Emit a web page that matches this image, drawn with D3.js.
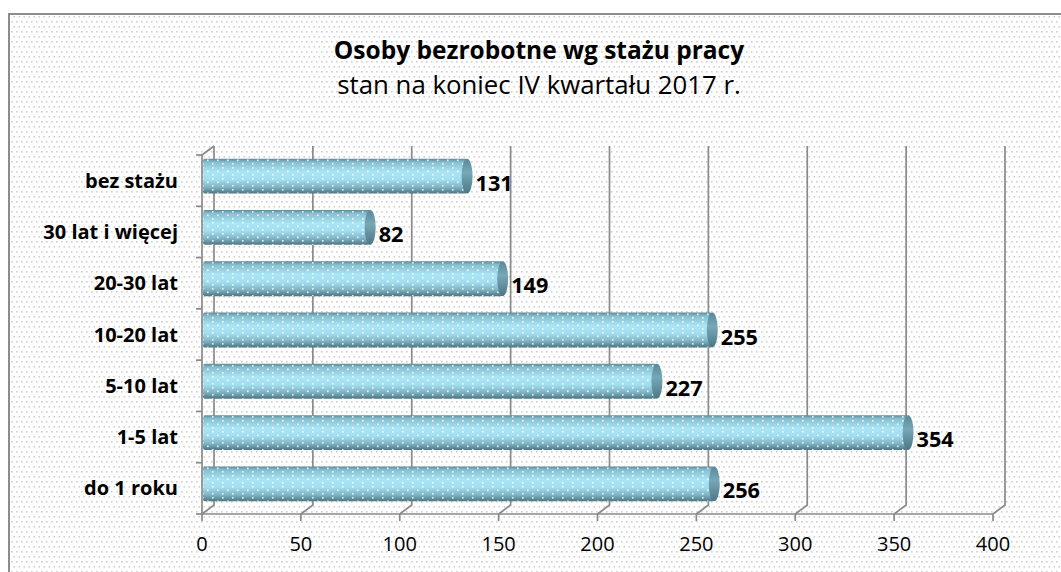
<!DOCTYPE html>
<html><head><meta charset="utf-8">
<script src="https://cdn.jsdelivr.net/npm/d3@7"></script>
<style>html,body{margin:0;padding:0;background:#fff;overflow:hidden}</style>
</head><body>
<svg id="c" width="1061" height="572"></svg>
<script>
const categories = ["bez stażu","30 lat i więcej","20-30 lat","10-20 lat","5-10 lat","1-5 lat","do 1 roku"];
const values = [131,82,149,255,227,354,256];
const tickValues = [0,50,100,150,200,250,300,350,400];
const titleText = "Osoby bezrobotne wg stażu pracy";
const subtitleText = "stan na koniec IV kwartału 2017 r.";

const svg = d3.select("#c");
const defs = svg.append("defs");
const FONT = "'Open Sans', Lato, sans-serif";

const bp = defs.append("pattern").attr("id","bgdots").attr("patternUnits","userSpaceOnUse")
  .attr("width",10).attr("height",10);
bp.append("rect").attr("width",10).attr("height",10).attr("fill","#fff");
[[1,1],[6,1],[3.5,6],[8.5,6]].forEach(([x,y])=>bp.append("rect").attr("x",x).attr("y",y).attr("width",1.6).attr("height",1.6).attr("fill","#d0d0d0"));

const g = defs.append("linearGradient").attr("id","cyl").attr("x1",0).attr("y1",0).attr("x2",0).attr("y2",1);
[[0,"#5d8a99"],[0.1,"#86bfcf"],[0.38,"#aae5f5"],[0.6,"#a2def0"],[0.82,"#7fb3c3"],[1,"#4c7582"]]
  .forEach(([o,c])=>g.append("stop").attr("offset",o).attr("stop-color",c));
const gc = defs.append("linearGradient").attr("id","cap").attr("x1",0).attr("y1",0).attr("x2",0).attr("y2",1);
[[0,"#5a8897"],[0.4,"#76a8b7"],[1,"#4d7684"]].forEach(([o,c])=>gc.append("stop").attr("offset",o).attr("stop-color",c));
const dp = defs.append("pattern").attr("id","bardots").attr("patternUnits","userSpaceOnUse")
  .attr("width",10).attr("height",11);
[[2,2],[7,5.5],[2,9]].forEach(([x,y])=>dp.append("rect").attr("x",x).attr("y",y).attr("width",1.6).attr("height",1.6).attr("fill","#fff").attr("opacity",0.85));

svg.append("rect").attr("x",0).attr("y",0).attr("width",1061).attr("height",572).attr("fill","#fff");
svg.append("rect").attr("x",9).attr("y",14).attr("width",1100).attr("height",600)
  .attr("fill","url(#bgdots)").attr("stroke","#8c8c8c").attr("stroke-width",2);

svg.append("text").attr("x",539).attr("y",58.5).attr("text-anchor","middle")
  .attr("font-family",FONT).attr("font-weight","bold").attr("font-size",24.5).attr("fill","#000").text(titleText);
svg.append("text").attr("x",539).attr("y",93.5).attr("text-anchor","middle")
  .attr("font-family",FONT).attr("font-size",25.8).attr("fill","#000").text(subtitleText);

const x = d3.scaleLinear().domain([0,400]).range([202,993]);
const y = d3.scaleBand().domain(categories).range([155,514]).paddingInner(0.32).paddingOuter(0.16);
const dx = 12, dy = -9;
const GRID = "#8a8a8a";

const grid = svg.append("g").attr("stroke",GRID).attr("stroke-width",1.7).attr("fill","none");
tickValues.forEach(t=>{
  const xf = x(t);
  grid.append("path").attr("d",`M${xf},514 L${xf+dx},${514+dy} L${xf+dx},${155+dy}`);
});
grid.append("path").attr("d",`M${x(0)},514 L${x(0)},155 L${x(0)+dx},${155+dy}`);
grid.append("path").attr("d",`M${x(0)},514 L${x(400)},514`);
tickValues.forEach(t=>grid.append("path").attr("d",`M${x(t)},514 L${x(t)},521`));
const bounds = [155].concat(categories.map(c=>y(c)+y.bandwidth()+y.step()*y.paddingInner()/2));
bounds.forEach(b=>{ if(b<=515) grid.append("path").attr("d",`M${x(0)-6},${b} L${x(0)},${b}`); });

const bars = svg.append("g");
categories.forEach((c,i)=>{
  const v = values[i];
  const top = y(c) + dy/2;
  const h = y.bandwidth();
  const xs = x(0)+1;
  const xe = x(v) + dx/2;
  const rx = 5.5;
  bars.append("rect").attr("x",xs).attr("y",top).attr("width",xe-xs).attr("height",h).attr("rx",2)
    .attr("fill","url(#cyl)");
  bars.append("rect").attr("x",xs).attr("y",top).attr("width",xe-xs-3).attr("height",h)
    .attr("fill","url(#bardots)");
  bars.append("ellipse").attr("cx",xe).attr("cy",top+h/2).attr("rx",rx).attr("ry",h/2)
    .attr("fill","url(#cap)");
  bars.append("text").attr("x",xe+rx+3).attr("y",top+h/2+14.5)
    .attr("font-family",FONT).attr("font-weight","bold").attr("font-size",21.7).attr("fill","#000").text(v);
});

svg.append("g").selectAll("text").data(categories).join("text")
  .attr("x",178).attr("y",d=>y(d)+y.bandwidth()/2+7)
  .attr("text-anchor","end").attr("font-family",FONT).attr("font-weight","bold").attr("font-size",20)
  .attr("fill","#000").text(d=>d);

svg.append("g").selectAll("text").data(tickValues).join("text")
  .attr("x",d=>x(d)).attr("y",551).attr("text-anchor","middle")
  .attr("font-family",FONT).attr("font-size",20).attr("fill","#000").text(d=>d);
</script>
</body></html>
